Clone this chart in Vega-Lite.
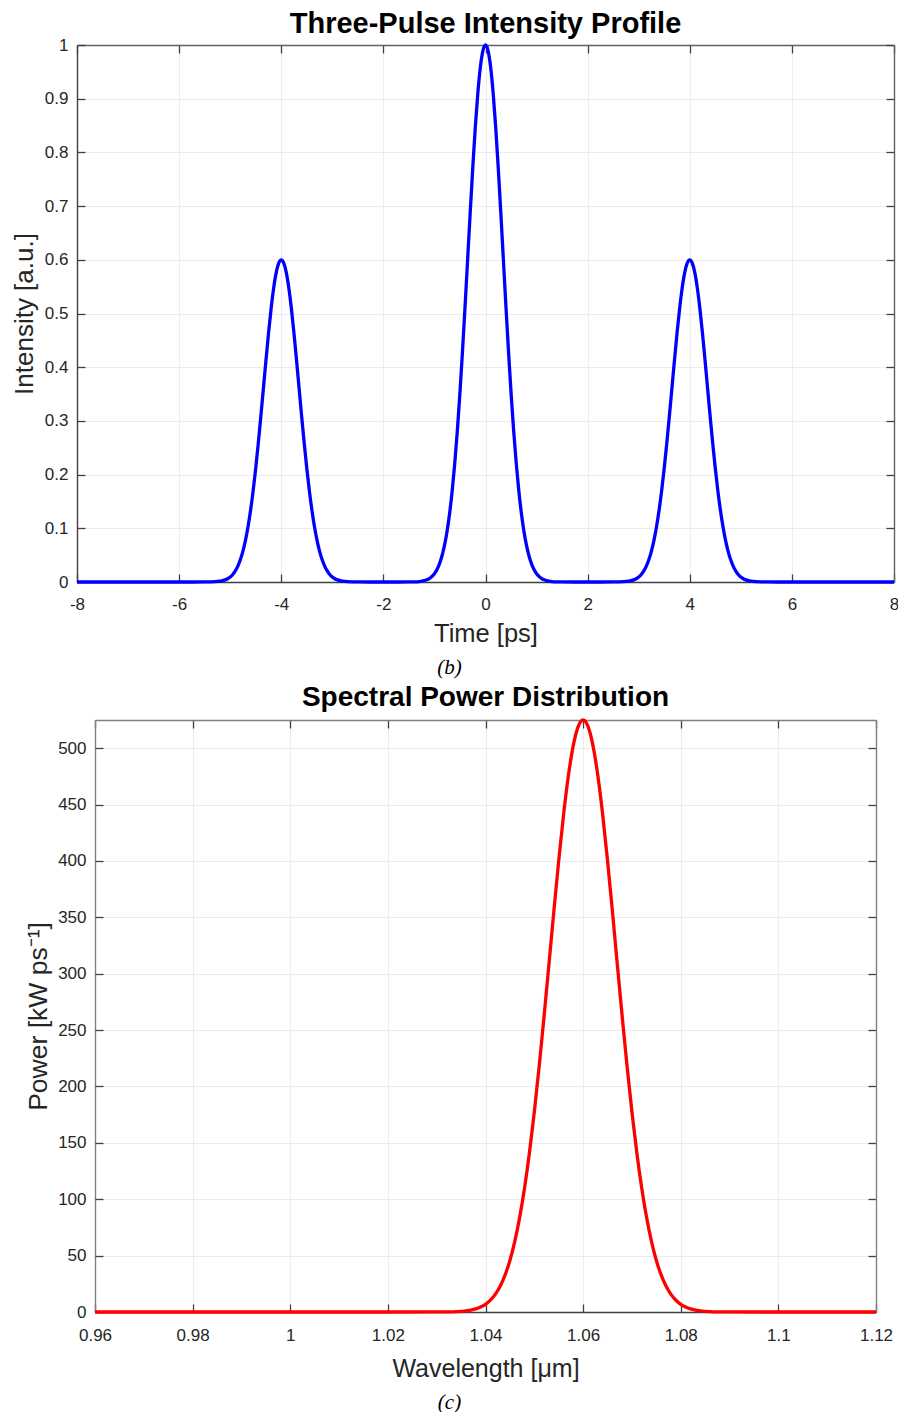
{
  "$schema": "https://vega.github.io/schema/vega-lite/v6.json",
  "background": "white",
  "padding": {"left": 11, "top": 10, "right": 0, "bottom": 0},
  "bounds": "flush",
  "center": true,
  "spacing": 138,
  "config": {
    "view": {"stroke": null},
    "font": "Liberation Sans",
    "axis": {
      "labelFont": "Liberation Sans",
      "labelFontSize": 17,
      "labelColor": "#262626",
      "labelFlush": false,
      "titleFont": "Liberation Sans",
      "titleFontSize": 25.5,
      "titleFontWeight": "normal",
      "titleColor": "#262626",
      "domainColor": "#404040",
      "domainWidth": 1.4,
      "tickColor": "#404040",
      "tickWidth": 1.3,
      "gridColor": "#ececec",
      "gridWidth": 1,
      "gridOpacity": 1
    }
  },
  "datasets": {
    "pulse": [
      {"time": -8, "intensity": 0},
      {"time": -7, "intensity": 0},
      {"time": -6, "intensity": 0},
      {"time": -5.5, "intensity": 0.00005},
      {"time": -5.4, "intensity": 0.00017},
      {"time": -5.3, "intensity": 0.00053},
      {"time": -5.2, "intensity": 0.00149},
      {"time": -5.15, "intensity": 0.00243},
      {"time": -5.1, "intensity": 0.00389},
      {"time": -5.05, "intensity": 0.00608},
      {"time": -5, "intensity": 0.00932},
      {"time": -4.95, "intensity": 0.01399},
      {"time": -4.9, "intensity": 0.02056},
      {"time": -4.85, "intensity": 0.0296},
      {"time": -4.8, "intensity": 0.04174},
      {"time": -4.75, "intensity": 0.05764},
      {"time": -4.7, "intensity": 0.07795},
      {"time": -4.65, "intensity": 0.10325},
      {"time": -4.6, "intensity": 0.13396},
      {"time": -4.55, "intensity": 0.17021},
      {"time": -4.5, "intensity": 0.21181},
      {"time": -4.45, "intensity": 0.25814},
      {"time": -4.4, "intensity": 0.30814},
      {"time": -4.35, "intensity": 0.36022},
      {"time": -4.3, "intensity": 0.41243},
      {"time": -4.25, "intensity": 0.46249},
      {"time": -4.2, "intensity": 0.50792},
      {"time": -4.15, "intensity": 0.54633},
      {"time": -4.1, "intensity": 0.57553},
      {"time": -4.05, "intensity": 0.59378},
      {"time": -4, "intensity": 0.6},
      {"time": -3.95, "intensity": 0.59378},
      {"time": -3.9, "intensity": 0.57553},
      {"time": -3.85, "intensity": 0.54633},
      {"time": -3.8, "intensity": 0.50792},
      {"time": -3.75, "intensity": 0.46249},
      {"time": -3.7, "intensity": 0.41243},
      {"time": -3.65, "intensity": 0.36022},
      {"time": -3.6, "intensity": 0.30814},
      {"time": -3.55, "intensity": 0.25814},
      {"time": -3.5, "intensity": 0.21181},
      {"time": -3.45, "intensity": 0.17021},
      {"time": -3.4, "intensity": 0.13396},
      {"time": -3.35, "intensity": 0.10325},
      {"time": -3.3, "intensity": 0.07795},
      {"time": -3.25, "intensity": 0.05764},
      {"time": -3.2, "intensity": 0.04174},
      {"time": -3.15, "intensity": 0.0296},
      {"time": -3.1, "intensity": 0.02056},
      {"time": -3.05, "intensity": 0.01399},
      {"time": -3, "intensity": 0.00932},
      {"time": -2.95, "intensity": 0.00608},
      {"time": -2.9, "intensity": 0.00389},
      {"time": -2.85, "intensity": 0.00243},
      {"time": -2.8, "intensity": 0.00149},
      {"time": -2.7, "intensity": 0.00053},
      {"time": -2.6, "intensity": 0.00017},
      {"time": -2.5, "intensity": 0.00005},
      {"time": -2, "intensity": 0},
      {"time": -1.5, "intensity": 0.00009},
      {"time": -1.4, "intensity": 0.00028},
      {"time": -1.3, "intensity": 0.00088},
      {"time": -1.2, "intensity": 0.00248},
      {"time": -1.15, "intensity": 0.00405},
      {"time": -1.1, "intensity": 0.00648},
      {"time": -1.05, "intensity": 0.01013},
      {"time": -1, "intensity": 0.01553},
      {"time": -0.95, "intensity": 0.02331},
      {"time": -0.9, "intensity": 0.03426},
      {"time": -0.85, "intensity": 0.04933},
      {"time": -0.8, "intensity": 0.06956},
      {"time": -0.75, "intensity": 0.09606},
      {"time": -0.7, "intensity": 0.12992},
      {"time": -0.65, "intensity": 0.17209},
      {"time": -0.6, "intensity": 0.22326},
      {"time": -0.55, "intensity": 0.28368},
      {"time": -0.5, "intensity": 0.35301},
      {"time": -0.45, "intensity": 0.43024},
      {"time": -0.4, "intensity": 0.51356},
      {"time": -0.35, "intensity": 0.60037},
      {"time": -0.3, "intensity": 0.68739},
      {"time": -0.25, "intensity": 0.77081},
      {"time": -0.2, "intensity": 0.84653},
      {"time": -0.15, "intensity": 0.91055},
      {"time": -0.1, "intensity": 0.95921},
      {"time": -0.05, "intensity": 0.98964},
      {"time": 0, "intensity": 1},
      {"time": 0.05, "intensity": 0.98964},
      {"time": 0.1, "intensity": 0.95921},
      {"time": 0.15, "intensity": 0.91055},
      {"time": 0.2, "intensity": 0.84653},
      {"time": 0.25, "intensity": 0.77081},
      {"time": 0.3, "intensity": 0.68739},
      {"time": 0.35, "intensity": 0.60037},
      {"time": 0.4, "intensity": 0.51356},
      {"time": 0.45, "intensity": 0.43024},
      {"time": 0.5, "intensity": 0.35301},
      {"time": 0.55, "intensity": 0.28368},
      {"time": 0.6, "intensity": 0.22326},
      {"time": 0.65, "intensity": 0.17209},
      {"time": 0.7, "intensity": 0.12992},
      {"time": 0.75, "intensity": 0.09606},
      {"time": 0.8, "intensity": 0.06956},
      {"time": 0.85, "intensity": 0.04933},
      {"time": 0.9, "intensity": 0.03426},
      {"time": 0.95, "intensity": 0.02331},
      {"time": 1, "intensity": 0.01553},
      {"time": 1.05, "intensity": 0.01013},
      {"time": 1.1, "intensity": 0.00648},
      {"time": 1.15, "intensity": 0.00405},
      {"time": 1.2, "intensity": 0.00248},
      {"time": 1.3, "intensity": 0.00088},
      {"time": 1.4, "intensity": 0.00028},
      {"time": 1.5, "intensity": 0.00009},
      {"time": 2, "intensity": 0},
      {"time": 2.5, "intensity": 0.00005},
      {"time": 2.6, "intensity": 0.00017},
      {"time": 2.7, "intensity": 0.00053},
      {"time": 2.8, "intensity": 0.00149},
      {"time": 2.85, "intensity": 0.00243},
      {"time": 2.9, "intensity": 0.00389},
      {"time": 2.95, "intensity": 0.00608},
      {"time": 3, "intensity": 0.00932},
      {"time": 3.05, "intensity": 0.01399},
      {"time": 3.1, "intensity": 0.02056},
      {"time": 3.15, "intensity": 0.0296},
      {"time": 3.2, "intensity": 0.04174},
      {"time": 3.25, "intensity": 0.05764},
      {"time": 3.3, "intensity": 0.07795},
      {"time": 3.35, "intensity": 0.10325},
      {"time": 3.4, "intensity": 0.13396},
      {"time": 3.45, "intensity": 0.17021},
      {"time": 3.5, "intensity": 0.21181},
      {"time": 3.55, "intensity": 0.25814},
      {"time": 3.6, "intensity": 0.30814},
      {"time": 3.65, "intensity": 0.36022},
      {"time": 3.7, "intensity": 0.41243},
      {"time": 3.75, "intensity": 0.46249},
      {"time": 3.8, "intensity": 0.50792},
      {"time": 3.85, "intensity": 0.54633},
      {"time": 3.9, "intensity": 0.57553},
      {"time": 3.95, "intensity": 0.59378},
      {"time": 4, "intensity": 0.6},
      {"time": 4.05, "intensity": 0.59378},
      {"time": 4.1, "intensity": 0.57553},
      {"time": 4.15, "intensity": 0.54633},
      {"time": 4.2, "intensity": 0.50792},
      {"time": 4.25, "intensity": 0.46249},
      {"time": 4.3, "intensity": 0.41243},
      {"time": 4.35, "intensity": 0.36022},
      {"time": 4.4, "intensity": 0.30814},
      {"time": 4.45, "intensity": 0.25814},
      {"time": 4.5, "intensity": 0.21181},
      {"time": 4.55, "intensity": 0.17021},
      {"time": 4.6, "intensity": 0.13396},
      {"time": 4.65, "intensity": 0.10325},
      {"time": 4.7, "intensity": 0.07795},
      {"time": 4.75, "intensity": 0.05764},
      {"time": 4.8, "intensity": 0.04174},
      {"time": 4.85, "intensity": 0.0296},
      {"time": 4.9, "intensity": 0.02056},
      {"time": 4.95, "intensity": 0.01399},
      {"time": 5, "intensity": 0.00932},
      {"time": 5.05, "intensity": 0.00608},
      {"time": 5.1, "intensity": 0.00389},
      {"time": 5.15, "intensity": 0.00243},
      {"time": 5.2, "intensity": 0.00149},
      {"time": 5.3, "intensity": 0.00053},
      {"time": 5.4, "intensity": 0.00017},
      {"time": 5.5, "intensity": 0.00005},
      {"time": 6, "intensity": 0},
      {"time": 7, "intensity": 0},
      {"time": 8, "intensity": 0}
    ],
    "spectrum": [
      {"wavelength": 0.96, "power": 0},
      {"wavelength": 1.0, "power": 0},
      {"wavelength": 1.02, "power": 0},
      {"wavelength": 1.03, "power": 0.03},
      {"wavelength": 1.032, "power": 0.11},
      {"wavelength": 1.034, "power": 0.34},
      {"wavelength": 1.036, "power": 1.01},
      {"wavelength": 1.037, "power": 1.69},
      {"wavelength": 1.038, "power": 2.75},
      {"wavelength": 1.039, "power": 4.38},
      {"wavelength": 1.04, "power": 6.84},
      {"wavelength": 1.041, "power": 10.45},
      {"wavelength": 1.042, "power": 15.61},
      {"wavelength": 1.043, "power": 22.82},
      {"wavelength": 1.044, "power": 32.64},
      {"wavelength": 1.045, "power": 45.69},
      {"wavelength": 1.046, "power": 62.59},
      {"wavelength": 1.047, "power": 83.9},
      {"wavelength": 1.048, "power": 110.04},
      {"wavelength": 1.049, "power": 141.24},
      {"wavelength": 1.05, "power": 177.38},
      {"wavelength": 1.051, "power": 217.99},
      {"wavelength": 1.052, "power": 262.15},
      {"wavelength": 1.053, "power": 308.5},
      {"wavelength": 1.054, "power": 355.23},
      {"wavelength": 1.055, "power": 400.27},
      {"wavelength": 1.056, "power": 441.33},
      {"wavelength": 1.057, "power": 476.15},
      {"wavelength": 1.058, "power": 502.7},
      {"wavelength": 1.059, "power": 519.34},
      {"wavelength": 1.06, "power": 525},
      {"wavelength": 1.061, "power": 519.34},
      {"wavelength": 1.062, "power": 502.7},
      {"wavelength": 1.063, "power": 476.15},
      {"wavelength": 1.064, "power": 441.33},
      {"wavelength": 1.065, "power": 400.27},
      {"wavelength": 1.066, "power": 355.23},
      {"wavelength": 1.067, "power": 308.5},
      {"wavelength": 1.068, "power": 262.15},
      {"wavelength": 1.069, "power": 217.99},
      {"wavelength": 1.07, "power": 177.38},
      {"wavelength": 1.071, "power": 141.24},
      {"wavelength": 1.072, "power": 110.04},
      {"wavelength": 1.073, "power": 83.9},
      {"wavelength": 1.074, "power": 62.59},
      {"wavelength": 1.075, "power": 45.69},
      {"wavelength": 1.076, "power": 32.64},
      {"wavelength": 1.077, "power": 22.82},
      {"wavelength": 1.078, "power": 15.61},
      {"wavelength": 1.079, "power": 10.45},
      {"wavelength": 1.08, "power": 6.84},
      {"wavelength": 1.081, "power": 4.38},
      {"wavelength": 1.082, "power": 2.75},
      {"wavelength": 1.083, "power": 1.69},
      {"wavelength": 1.084, "power": 1.01},
      {"wavelength": 1.086, "power": 0.34},
      {"wavelength": 1.088, "power": 0.11},
      {"wavelength": 1.09, "power": 0.03},
      {"wavelength": 1.1, "power": 0},
      {"wavelength": 1.12, "power": 0}
    ]
  },
  "vconcat": [
    {
      "width": 817,
      "height": 537,
      "title": {"text": "Three-Pulse Intensity Profile", "font": "Liberation Sans", "fontSize": 29, "fontWeight": "bold", "color": "#000000", "anchor": "middle", "baseline": "alphabetic", "offset": -26},
      "data": {"name": "pulse"},
      "layer": [
        {
          "mark": {"type": "line", "color": "#0000ff", "strokeWidth": 3.3, "interpolate": "monotone"},
          "encoding": {
            "x": {"field": "time", "type": "quantitative", "scale": {"domain": [-8, 8], "nice": false, "zero": false},
              "axis": {"orient": "bottom", "values": [-8, -6, -4, -2, 0, 2, 4, 6, 8], "labelExpr": "toString(datum.value)", "labelPadding": 14, "ticks": false, "domain": true, "grid": true, "title": "Time [ps]", "titlePadding": 8, "minExtent": 31, "maxExtent": 31}},
            "y": {"field": "intensity", "type": "quantitative", "scale": {"domain": [0, 1], "nice": false},
              "axis": {"orient": "left", "values": [0, 0.1, 0.2, 0.3, 0.4, 0.5, 0.6, 0.7, 0.8, 0.9, 1], "labelExpr": "toString(datum.value)", "labelPadding": 9, "ticks": false, "domain": true, "grid": true, "title": "Intensity [a.u.]", "titleFontSize": 26, "titlePadding": 6, "minExtent": 34, "maxExtent": 34}}
          }
        },
        {
          "mark": {"type": "line", "opacity": 0},
          "encoding": {
            "x": {"field": "time", "type": "quantitative",
              "axis": {"orient": "bottom", "values": [-8, -6, -4, -2, 0, 2, 4, 6, 8], "labels": false, "domain": false, "grid": false, "ticks": true, "tickSize": -8, "title": "(b)", "titleFont": "Liberation Serif", "titleFontStyle": "italic", "titleFontSize": 21, "titleColor": "#000000", "titlePadding": 74, "titleX": 372, "minExtent": 0, "maxExtent": 0}},
            "y": {"field": "intensity", "type": "quantitative",
              "axis": {"orient": "right", "values": [0, 0.1, 0.2, 0.3, 0.4, 0.5, 0.6, 0.7, 0.8, 0.9, 1], "labels": false, "domain": true, "domainColor": "#606060", "grid": false, "ticks": true, "tickSize": -8, "title": null, "minExtent": 0, "maxExtent": 0}}
          }
        },
        {
          "mark": {"type": "line", "opacity": 0},
          "encoding": {
            "x": {"field": "time", "type": "quantitative",
              "axis": {"orient": "top", "values": [-8, -6, -4, -2, 0, 2, 4, 6, 8], "labels": false, "domain": true, "domainColor": "#606060", "grid": false, "ticks": true, "tickSize": -8, "title": null, "minExtent": 0, "maxExtent": 0}},
            "y": {"field": "intensity", "type": "quantitative",
              "axis": {"orient": "left", "values": [0, 0.1, 0.2, 0.3, 0.4, 0.5, 0.6, 0.7, 0.8, 0.9, 1], "labels": false, "domain": false, "grid": false, "ticks": true, "tickSize": -8, "title": null, "minExtent": 0, "maxExtent": 0}}
          }
        }
      ],
      "resolve": {"axis": {"x": "independent", "y": "independent"}}
    },
    {
      "width": 781,
      "height": 592,
      "title": {"text": "Spectral Power Distribution", "font": "Liberation Sans", "fontSize": 28, "fontWeight": "bold", "color": "#000000", "anchor": "middle", "baseline": "alphabetic", "offset": -21},
      "data": {"name": "spectrum"},
      "layer": [
        {
          "mark": {"type": "line", "color": "#ff0000", "strokeWidth": 3.3, "interpolate": "monotone"},
          "encoding": {
            "x": {"field": "wavelength", "type": "quantitative", "scale": {"domain": [0.96, 1.12], "nice": false, "zero": false},
              "axis": {"orient": "bottom", "values": [0.96, 0.98, 1, 1.02, 1.04, 1.06, 1.08, 1.1, 1.12], "labelExpr": "toString(datum.value)", "labelPadding": 15, "ticks": false, "domain": true, "grid": true, "title": "Wavelength [μm]", "titleFontSize": 25, "titlePadding": 12, "minExtent": 32, "maxExtent": 32}},
            "y": {"field": "power", "type": "quantitative", "scale": {"domain": [0, 525], "nice": false},
              "axis": {"orient": "left", "values": [0, 50, 100, 150, 200, 250, 300, 350, 400, 450, 500], "labelExpr": "toString(datum.value)", "labelPadding": 9, "ticks": false, "domain": true, "domainColor": "#808080", "grid": true, "title": "Power [kW ps⁻¹]", "titleFontSize": 26.5, "titlePadding": 5, "minExtent": 38, "maxExtent": 38}}
          }
        },
        {
          "mark": {"type": "line", "opacity": 0},
          "encoding": {
            "x": {"field": "wavelength", "type": "quantitative",
              "axis": {"orient": "bottom", "values": [0.96, 0.98, 1, 1.02, 1.04, 1.06, 1.08, 1.1, 1.12], "labels": false, "domain": false, "grid": false, "ticks": true, "tickSize": -8, "title": "(c)", "titleFont": "Liberation Serif", "titleFontStyle": "italic", "titleFontSize": 21, "titleColor": "#000000", "titlePadding": 79, "titleX": 354, "minExtent": 0, "maxExtent": 0}},
            "y": {"field": "power", "type": "quantitative",
              "axis": {"orient": "right", "values": [0, 50, 100, 150, 200, 250, 300, 350, 400, 450, 500], "labels": false, "domain": true, "domainColor": "#808080", "grid": false, "ticks": true, "tickSize": -8, "title": null, "minExtent": 0, "maxExtent": 0}}
          }
        },
        {
          "mark": {"type": "line", "opacity": 0},
          "encoding": {
            "x": {"field": "wavelength", "type": "quantitative",
              "axis": {"orient": "top", "values": [0.96, 0.98, 1, 1.02, 1.04, 1.06, 1.08, 1.1, 1.12], "labels": false, "domain": true, "domainColor": "#808080", "grid": false, "ticks": true, "tickSize": -8, "title": null, "minExtent": 0, "maxExtent": 0}},
            "y": {"field": "power", "type": "quantitative",
              "axis": {"orient": "left", "values": [0, 50, 100, 150, 200, 250, 300, 350, 400, 450, 500], "labels": false, "domain": false, "grid": false, "ticks": true, "tickSize": -8, "title": null, "minExtent": 0, "maxExtent": 0}}
          }
        }
      ],
      "resolve": {"axis": {"x": "independent", "y": "independent"}}
    }
  ]
}
